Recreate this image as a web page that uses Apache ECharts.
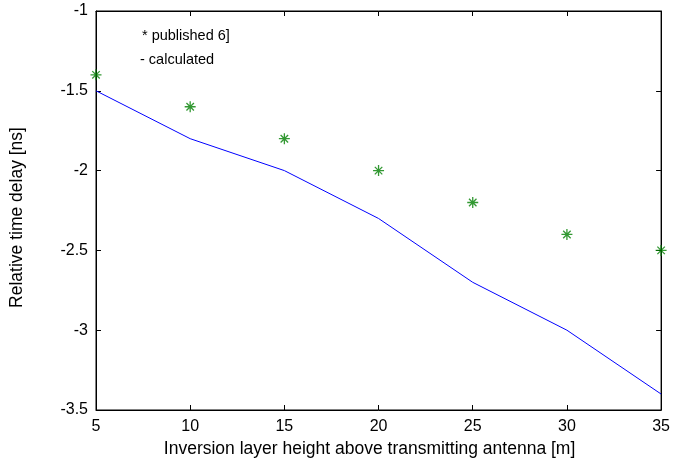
<!DOCTYPE html>
<html>
<head>
<meta charset="utf-8">
<script src="https://cdn.jsdelivr.net/npm/echarts@6/dist/echarts.min.js"></script>
<style>
  html, body { margin: 0; padding: 0; background: #fff; }
  #main { width: 673px; height: 463px; }
</style>
</head>
<body>
<div id="main"></div>
<script>
// heights of the inversion layer [m]
const heights = [5, 10, 15, 20, 25, 30, 35]
// published values (stars)
const published = [-1.4, -1.6, -1.8, -2.0, -2.2, -2.4, -2.5]
// calculated values (line)
const calculated = [-1.5, -1.8, -2.0, -2.3, -2.7, -3.0, -3.4]

const chart = echarts.init(document.getElementById('main'))

const font = 'Liberation Sans, Arial, sans-serif'
const star = 'path://M5,0L5,10M0,5L10,5M1.6,1.6L8.4,8.4M8.4,1.6L1.6,8.4'

const tickStyle = { inside: true, length: 5, lineStyle: { color: '#000' } }

const option = {
  animation: false,
  grid: {
    left: 95, top: 11, right: 10, bottom: 53,
    show: true, borderColor: '#000', borderWidth: 1
  },
  xAxis: [
    {
      type: 'value', min: 5, max: 35, interval: 5,
      name: 'Inversion layer height above transmitting antenna [m]',
      nameLocation: 'middle', nameGap: 29,
      nameTextStyle: { fontFamily: font, fontSize: 17.5, color: '#000', padding: [0, 18, 0, 0] },
      axisLine: { show: true, lineStyle: { color: '#000' } },
      axisTick: tickStyle,
      axisLabel: { fontFamily: font, fontSize: 16, color: '#000', margin: 9 },
      splitLine: { show: false }
    },
    {
      type: 'value', min: 5, max: 35, interval: 5, position: 'top',
      axisLine: { show: true, lineStyle: { color: '#000' } },
      axisTick: tickStyle, axisLabel: { show: false }, splitLine: { show: false }
    }
  ],
  yAxis: [
    {
      type: 'value', min: -3.5, max: -1, interval: 0.5,
      name: 'Relative time delay [ns]',
      nameLocation: 'middle', nameGap: 70,
      nameTextStyle: { fontFamily: font, fontSize: 17.5, color: '#000', padding: [0, 14, 0, 0] },
      axisLine: { show: true, lineStyle: { color: '#000' } },
      axisTick: tickStyle,
      axisLabel: { fontFamily: font, fontSize: 16, color: '#000', margin: 8 },
      splitLine: { show: false }
    },
    {
      type: 'value', min: -3.5, max: -1, interval: 0.5, position: 'right',
      axisLine: { show: true, lineStyle: { color: '#000' } },
      axisTick: tickStyle, axisLabel: { show: false }, splitLine: { show: false }
    }
  ],
  graphic: [
    {
      type: 'text', left: 142, top: 28,
      style: { text: '* published 6]', font: '14.5px ' + font, fill: '#000' }
    },
    {
      type: 'text', left: 140, top: 52,
      style: { text: '- calculated', font: '14.5px ' + font, fill: '#000' }
    }
  ],
  series: [
    {
      name: 'calculated',
      type: 'line',
      data: heights.map((h, i) => [h, calculated[i]]),
      showSymbol: false,
      lineStyle: { color: '#0000ff', width: 1 }
    },
    {
      name: 'published',
      type: 'scatter',
      data: heights.map((h, i) => [h, published[i]]),
      symbol: star,
      symbolSize: 11,
      itemStyle: { color: 'none', borderColor: '#008000', borderWidth: 1.3 }
    }
  ]
}

chart.setOption(option)
</script>
</body>
</html>
